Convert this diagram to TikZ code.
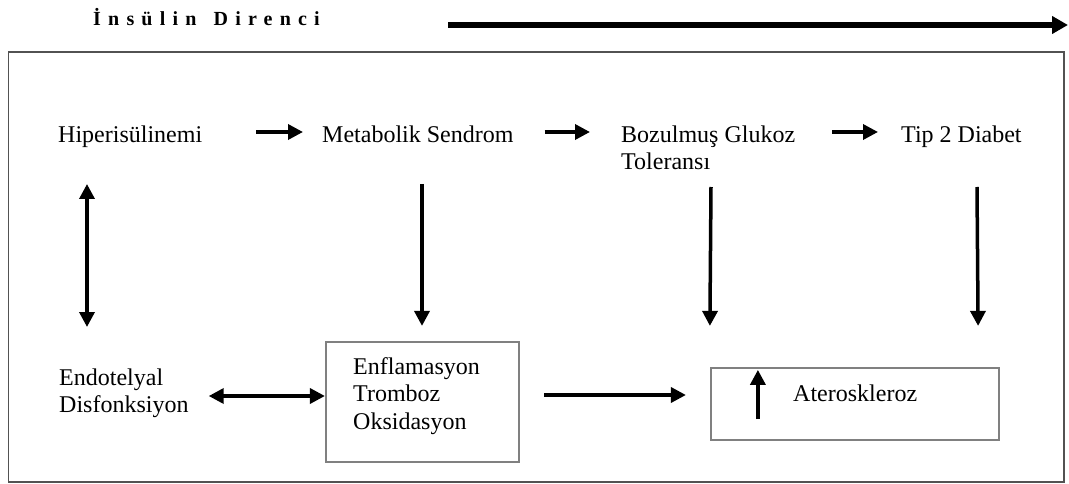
\documentclass[tikz,border=0pt]{standalone}
\usepackage{fontspec}
\setmainfont{Liberation Serif}
\usetikzlibrary{arrows.meta}
\begin{document}
\begin{tikzpicture}[x=1pt,y=-1pt,
  lbl/.style={inner sep=0pt, font=\fontsize{24}{27.5}\selectfont},
  arr/.style={line width=3.5pt, -{Triangle[length=15pt,width=15pt]}},
  darr/.style={line width=3.5pt, {Triangle[length=15pt,width=15pt]}-{Triangle[length=15pt,width=15pt]}},
  gbox/.style={draw=black!50, line width=2.2pt, inner sep=0pt},
  frame/.style={draw=black!68, line width=1.8pt}]
\useasboundingbox (0,0) rectangle (1069,484);
% title
\node[anchor=base west, inner sep=0pt, font=\fontsize{20}{24}\selectfont\bfseries\addfontfeature{LetterSpace=36}] (title) at (93,26) {İnsülin\hspace{5pt} Direnci};
\coordinate (tend) at (1068,25);
\draw[line width=6pt, -{Triangle[length=16pt,width=17pt]}] ([shift={(355,-1)}]title.base west) -- (tend);
% frame
\draw[frame] (8.5,52) rectangle (1064,482);
% row 1
\node[lbl, anchor=base west] (hip) at (58,143) {Hiperisülinemi};
\node[lbl, anchor=base west] (met) at (322,143) {Metabolik Sendrom};
\node[lbl, align=left, anchor=north west] (boz) at (621,125.4) {Bozulmuş Glukoz\\Toleransı};
\node[lbl, anchor=base west] (tip) at (901,143) {Tip 2 Diabet};
% row 2
\node[lbl, align=left, anchor=north west] (endo) at (59,368.2) {Endotelyal\\Disfonksiyon};
\node[gbox, minimum width=193pt, minimum height=120pt] (enf) at (422.5,402) {};
\node[lbl, align=left, anchor=north west] (enft) at (353,357.2) {Enflamasyon\\Tromboz\\Oksidasyon};
\node[gbox, minimum width=288pt, minimum height=72pt] (ath) at (855,404) {};
\node[lbl, anchor=base west] (atht) at (793,401) {Ateroskleroz};
% horizontal arrows row 1
\draw[arr] ([shift={(54,-11)}]hip.base east) -- ([shift={(-19,-11)}]met.base west);
\draw[arr] ([shift={(31,-11)}]met.base east) -- ([shift={(-31,6.6)}]boz.north west);
\draw[arr] ([shift={(37,6.6)}]boz.north east) -- ([shift={(-23,-11)}]tip.base west);
% vertical arrows
\draw[darr] ([shift={(29,41)}]hip.base west) -- ([shift={(28,-41.2)}]endo.north west);
\draw[arr] ([shift={(100,41)}]met.base west) -- ([shift={(-0.5,-15)}]enf.north);
\draw[arr] ([shift={(90,61.6)}]boz.north west) -- ([shift={(0,-41)}]ath.north west);
\draw[arr] ([shift={(76,44)}]tip.base west) -- ([shift={(-22,-41)}]ath.north east);
% row 2 arrows
\draw[darr] ([shift={(20,27.8)}]endo.north east) -- ([shift={(0,-6)}]enf.west);
\draw[arr] ([shift={(24,-7)}]enf.east) -- ([shift={(-24,-9)}]ath.west);
\draw[arr] ([shift={(48,-22)}]ath.south west) -- ([shift={(48,3)}]ath.north west);
\end{tikzpicture}
\end{document}
